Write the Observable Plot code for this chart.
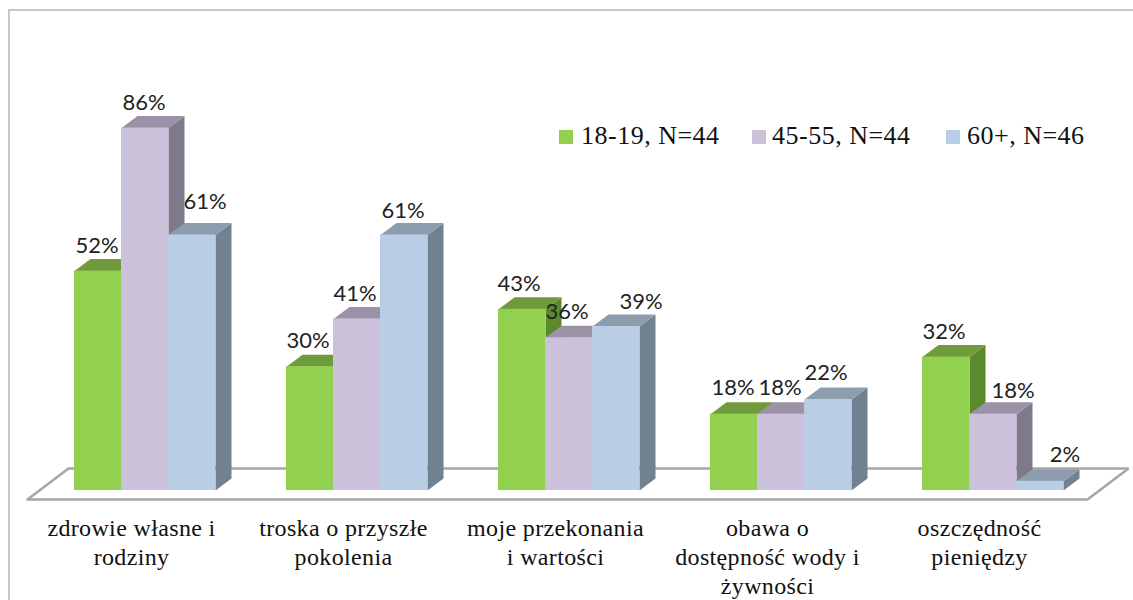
<!DOCTYPE html>
<html lang="pl">
<head>
<meta charset="utf-8">
<script src="https://cdn.jsdelivr.net/npm/d3@7"></script>
<script src="https://cdn.jsdelivr.net/npm/@observablehq/plot@0.6"></script>
<style>
  html, body { margin: 0; padding: 0; background: #fff; }
  #wrap { position: relative; width: 1133px; height: 600px; overflow: hidden; }
  #frame { position: absolute; left: 8px; top: 9px; right: -4px; bottom: -4px; border: 2px solid #c6c6c6; box-sizing: border-box; pointer-events: none; }
  .swatch { position: absolute; width: 14px; height: 14px; top: 130px; }
  .lg { position: absolute; top: 120px; font: 26px "Liberation Serif", serif; letter-spacing: 0.5px; color: #111; white-space: nowrap; line-height: 32px; }
  svg { display: block; }
  [aria-label="x-axis tick label"] { letter-spacing: 0.35px; }
</style>
</head>
<body>
<div id="wrap"><div id="chart"></div><div id="frame"></div></div>
<script>
const categories = [
  "zdrowie własne i\nrodziny",
  "troska o przyszłe\npokolenia",
  "moje przekonania\ni wartości",
  "obawa o\ndostępność wody i\nżywności",
  "oszczędność\npieniędzy"
];
const seriesNames = ["18-19, N=44", "45-55, N=44", "60+, N=46"];
const values1819 = [52.3, 29.5, 43.2, 18.2, 31.8];
const values4555 = [86.4, 40.9, 36.4, 18.2, 18.2];
const values60 = [60.9, 60.9, 39.1, 21.7, 2.2];

const seriesValues = [values1819, values4555, values60];
const frontColors = ["#92d050", "#ccc1da", "#b9cde5"];
const topColors = ["#6f9a3d", "#9c92a7", "#8d9dae"];
const sideColors = ["#5b8a2e", "#7f798c", "#72818f"];

// placement of the value labels, in pixels relative to the bar
const labelShiftX = [[-1, -2, -3, -1, -2], [-1, -2, -2, -1, 20], [13, -1, 25, -2, 25]];
const labelLift = [[25.6, 26.2, 25.8, 25.7, 25.6], [24.6, 25.4, 26.3, 25.7, 22.7], [33.5, 24.5, 25, 27, 26.8]];

const pxX = 212, pxY = 4.195;           // pixels per x unit (one group) and per percent
const barW = 47 / pxX, depX = 16 / pxX, depY = 12 / pxY;

const floorPts = [
  {x: -47 / pxX, y: -9 / pxY},
  {x: 1013 / pxX, y: -9 / pxY},
  {x: 1054 / pxX, y: 22 / pxY},
  {x: -6 / pxX, y: 22 / pxY},
  {x: -47 / pxX, y: -9 / pxY}
];

const barMarks = seriesValues.flatMap((vals, k) => {
  const rows = vals.map((v, i) => ({i, v, x0: i + k * barW, x1: i + (k + 1) * barW}));
  const side = rows.flatMap(r => [
    {z: r.i, x: r.x1, y: 0},
    {z: r.i, x: r.x1 + depX, y: depY},
    {z: r.i, x: r.x1 + depX, y: r.v + depY},
    {z: r.i, x: r.x1, y: r.v}
  ]);
  const top = rows.flatMap(r => [
    {z: r.i, x: r.x0, y: r.v},
    {z: r.i, x: r.x0 + depX, y: r.v + depY},
    {z: r.i, x: r.x1 + depX, y: r.v + depY},
    {z: r.i, x: r.x1, y: r.v}
  ]);
  return [
    Plot.line(side, {x: "x", y: "y", z: "z", fill: sideColors[k], stroke: null}),
    Plot.line(top, {x: "x", y: "y", z: "z", fill: topColors[k], stroke: null}),
    Plot.rect(rows, {x1: "x0", x2: "x1", y1: 0, y2: "v", fill: frontColors[k], inset: 0})
  ];
});

const labelRows = seriesValues.flatMap((vals, k) => vals.map((v, i) => ({
  x: i + (k + 0.5) * barW + labelShiftX[k][i] / pxX,
  y: v + labelLift[k][i] / pxY,
  t: Math.round(v) + "%"
})));

const centers = categories.map((c, i) => i + 57 / pxX);

const chart = Plot.plot({
  width: 1133,
  height: 600,
  marginTop: 0, marginRight: 0, marginLeft: 0, marginBottom: 110,
  x: {domain: [0, 5], range: [74, 1134], axis: null},
  y: {domain: [0, 100], range: [490, 70.5], axis: null},
  style: {background: "transparent", overflow: "visible"},
  marks: [
    Plot.line(floorPts, {x: "x", y: "y", fill: "#fff", stroke: "#a6a6a6", strokeWidth: 2.5, strokeLinejoin: "miter"}),
    ...barMarks,
    Plot.text(labelRows, {x: "x", y: "y", text: "t", fontFamily: "Lato", fontSize: 22, fill: "#222", textAnchor: "middle"}),
    Plot.axisX({
      ticks: centers,
      tickSize: 0,
      tickPadding: 24.5,
      anchor: "bottom",
      label: null,
      lineHeight: 1.21,
      fontFamily: "Liberation Serif",
      fontSize: 24,
      fill: "#111",
      tickFormat: (d) => categories[centers.indexOf(d)]
    })
  ]
});
document.getElementById("chart").appendChild(chart);

const wrap = document.getElementById("wrap");
const legendSwatchX = [559, 752, 946];
const legendTextX = [581, 772, 967];
seriesNames.forEach((name, k) => {
  const s = document.createElement("div");
  s.className = "swatch";
  s.style.left = legendSwatchX[k] + "px";
  s.style.background = frontColors[k];
  wrap.appendChild(s);
  const t = document.createElement("div");
  t.className = "lg";
  t.style.left = legendTextX[k] + "px";
  t.textContent = name;
  wrap.appendChild(t);
});
</script>
</body>
</html>
